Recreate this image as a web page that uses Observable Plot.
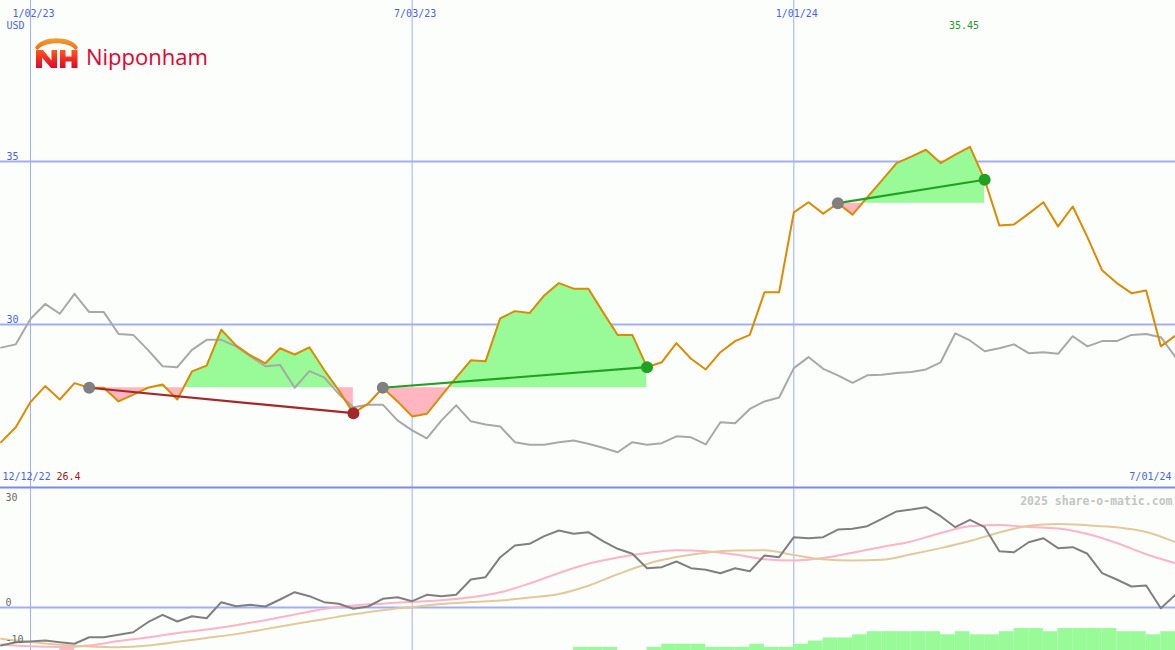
<!DOCTYPE html>
<html><head><meta charset="utf-8">
<script src="https://cdn.jsdelivr.net/npm/d3@7"></script>
<script src="https://cdn.jsdelivr.net/npm/@observablehq/plot@0.6"></script>
<style>
html,body{margin:0;padding:0;background:#fcfefc;}
#wrap{position:relative;width:1175px;height:650px;overflow:hidden;background:#fcfefc;}
#wrap svg{display:block;}
#logo{position:absolute;left:0;top:0;pointer-events:none;}
</style></head><body>
<div id="wrap"><div id="top"></div><div id="bottom"></div>
<svg id="logo" width="230" height="80">
  <defs>
    <linearGradient id="arcG" x1="0" y1="0" x2="0" y2="1"><stop offset="0" stop-color="#f7a030"/><stop offset="1" stop-color="#ee6a1a"/></linearGradient>
    <linearGradient id="nhG" x1="0" y1="0" x2="0" y2="1"><stop offset="0" stop-color="#ff5a18"/><stop offset="0.5" stop-color="#f22a22"/><stop offset="1" stop-color="#dc0a30"/></linearGradient>
  </defs>
  <path d="M35,48 C40,35 73,35 78,48 L75.5,50 C69,41 44,41 37.5,50 Z" fill="url(#arcG)"/>
  <path d="M36,50 H43 L51.5,60.5 V50 H57 V68 H51 L42,57.5 V68 H36 Z" fill="url(#nhG)"/>
  <path d="M60,50 H65.5 V56.5 H71.5 V50 H77.5 V68 H71.5 V61.5 H65.5 V68 H60 Z" fill="url(#nhG)"/>
  <text x="86" y="65" font-family="'Open Sans', 'Liberation Sans', sans-serif" font-size="22" fill="#e5002d">Nipponham</text>
</svg>
</div>
<script>
// ---- data ----
const startDate = "2022-12-19"; // weekly observations (Mondays)
const price = [26.39, 26.85, 27.62, 28.11, 27.70, 28.20, 28.06, 28.06, 27.64, 27.85,
 28.06, 28.16, 27.70, 28.56, 28.74, 29.84, 29.36, 29.05, 28.81, 29.27,
 29.08, 29.30, 28.61, 27.98, 27.28, 27.57, 28.06, 27.64, 27.18, 27.26,
 27.82, 28.37, 28.90, 28.87, 30.19, 30.41, 30.35, 30.89, 31.27, 31.10,
 31.10, 30.38, 29.68, 29.68, 28.69, 28.84, 29.43, 28.95, 28.62, 29.15,
 29.49, 29.68, 30.99, 30.99, 33.44, 33.75, 33.40, 33.72, 33.37, 33.90,
 34.42, 34.95, 35.15, 35.36, 34.95, 35.21, 35.45, 34.44, 33.04, 33.07,
 33.40, 33.75, 33.01, 33.62, 32.68, 31.66, 31.27, 30.96, 31.04, 29.33,
 29.66];
const benchmark = [29.29, 29.39, 30.17, 30.63, 30.33, 30.94, 30.38, 30.38, 29.71, 29.68,
 29.22, 28.72, 28.69, 29.22, 29.53, 29.53, 29.33, 29.02, 28.72, 28.76,
 28.06, 28.57, 28.38, 27.87, 27.46, 27.54, 27.54, 27.06, 26.75, 26.51,
 27.06, 27.52, 27.03, 26.93, 26.87, 26.39, 26.31, 26.31, 26.39, 26.44,
 26.34, 26.22, 26.08, 26.39, 26.31, 26.36, 26.57, 26.54, 26.32, 27.00,
 26.97, 27.41, 27.64, 27.76, 28.66, 29.00, 28.64, 28.44, 28.21, 28.44,
 28.46, 28.51, 28.54, 28.62, 28.84, 29.73, 29.51, 29.18, 29.27, 29.39,
 29.12, 29.15, 29.10, 29.64, 29.33, 29.49, 29.49, 29.68, 29.71, 29.61,
 29.00];
const momentum = [-10.18, -9.30, -9.11, -8.84, -9.30, -9.72, -7.96, -7.96, -7.31, -6.62,
 -3.94, -1.96, -3.75, -2.33, -2.87, 1.42, 0.35, 0.72, 0.27, 2.14,
 4.10, 3.03, 1.42, 0.99, -0.35, 0.27, 2.33, 2.76, 1.69, 3.40,
 3.03, 3.40, 7.50, 8.12, 13.47, 16.61, 17.06, 19.10, 20.63, 19.74,
 20.17, 17.76, 15.72, 14.39, 10.53, 10.80, 12.32, 10.53, 10.10, 9.19,
 10.53, 9.72, 13.93, 13.47, 18.83, 18.56, 18.83, 20.89, 21.08, 21.78,
 23.76, 25.72, 26.25, 26.87, 24.46, 21.51, 23.49, 21.51, 15.08, 14.81,
 17.49, 18.56, 15.89, 16.15, 14.39, 9.19, 7.50, 5.63, 5.89, -0.19,
 3.40];
// smooth averages, read every second week
const avgFast = [-9.91, -10.4, -10.58, -10.18, -8.97, -8.04, -6.83, -5.89, -4.74, -3.40,
 -1.88, -0.40, 0.54, 1.02, 1.55, 1.93, 2.73, 4.07, 6.43, 9.24,
 11.71, 13.39, 14.60, 15.35, 15.08, 14.17, 12.94, 12.59, 13.26, 14.65,
 16.21, 17.68, 19.96, 21.78, 22.10, 21.56, 21.16, 19.69, 17.28, 14.28,
 11.87];
const avgSlow = [-8.38, -9.22, -9.99, -10.45, -10.63, -10.18, -9.19, -8.14, -7.13, -5.79,
 -4.42, -3.13, -1.82, -0.72, 0.11, 0.94, 1.45, 1.88, 2.65, 3.62,
 5.84, 8.89, 11.65, 13.50, 14.68, 15.27, 15.32, 14.06, 12.91, 12.59,
 12.78, 14.25, 15.91, 17.81, 20.09, 21.89, 22.39, 22.02, 21.48, 20.20,
 17.49];
// weekly signal bars (count; negative = pink)
const signalCounts = [0,0,0,0,-1,0,0,0,0,0, 0,0,0,0,0,0,0,0,0,0, 0,0,0,0,0,0,0,0,0,0,
 0,0,0,0,0,0,0,0,0,1, 1,1,0,0,1,2,2,2,1,1, 1,2,1,1,2,3,4,4,5,6,
 6,6,6,6,5,6,5,5,6,7, 7,6,7,7,7,7,6,6,5,6];
const tradeEntryDates = ["2023-01-30", "2023-06-19", "2024-01-22"];
const tradeExitDates  = ["2023-06-05", "2023-10-23", "2024-04-01"];
const gridDates  = ["2023-01-02", "2023-07-03", "2024-01-01"];
const gridLabels = ["1/02/23", "7/03/23", "1/01/24"];
const priceTicks = [30, 35];
const lowerTicks = [30, 0, -10];
const firstLabel = "12/12/22";
const lastLabel = "7/01/24";
const currency = "USD";
const watermark = "2025 share-o-matic.com";

// ---- build tables ----
const t0 = new Date(startDate);
const rows = price.map((p, i) => ({date: d3.utcDay.offset(t0, 7 * i), price: p, bench: benchmark[i], mom: momentum[i]}));
const avgRows = avgFast.map((v, i) => ({date: d3.utcDay.offset(t0, 14 * i), fast: v, slow: avgSlow[i]}));
const barRows = signalCounts.map((c, i) => ({date: rows[i].date, next: rows[i + 1].date, count: c}));
const findRow = d => rows.find(r => +r.date === +new Date(d));
const trades = tradeEntryDates.map((e, i) => {
  const a = findRow(e), b = findRow(tradeExitDates[i]);
  return {entryDate: a.date, entryPrice: a.price, exitDate: b.date, exitPrice: b.price, win: b.price > a.price};
});
const gridRows = gridDates.map((d, i) => ({date: new Date(d), label: gridLabels[i]}));
const maxRow = rows.reduce((m, r) => r.price > m.price ? r : m, rows[0]);
const minRow = rows.reduce((m, r) => r.price < m.price ? r : m, rows[0]);

// ---- styles ----
const BLUE = "#4a5ef0", GRID = "#a3adf2", DIVIDER = "#7a8af0";
const GREENFILL = "#98fb98", PINKFILL = "#ffb6c1";
const WIN = "#22a022", LOSS = "#a52828";
const FONT = "'DejaVu Sans Mono', monospace";
const xScale = {type: "utc", domain: [new Date(Date.UTC(2022, 11, 18, 17)), new Date(Date.UTC(2024, 6, 1))], axis: null};
const priceMin = 25;

function tradeFill(t) {
  const seg = rows.filter(r => r.date >= t.entryDate && r.date <= t.exitDate);
  const base = t.entryPrice;
  if (Plot.differenceY) {
    return [Plot.differenceY(seg, {x: "date", y1: () => base, y2: "price", positiveFill: GREENFILL, negativeFill: PINKFILL, fillOpacity: 1, stroke: "none"})];
  }
  return [
    Plot.areaY(seg, {x: "date", y1: () => base, y2: d => Math.max(d.price, base), fill: GREENFILL}),
    Plot.areaY(seg, {x: "date", y1: () => base, y2: d => Math.min(d.price, base), fill: PINKFILL})
  ];
}

const topPlot = Plot.plot({
  width: 1175, height: 488, margin: 0,
  style: {background: "transparent", fontFamily: FONT, overflow: "visible"},
  x: xScale,
  y: {domain: [24.969, 39.938], axis: null},
  marks: [
    Plot.ruleX(gridRows, {x: "date", stroke: GRID, strokeWidth: 1}),
    Plot.ruleY(priceTicks, {stroke: GRID, strokeWidth: 2}),
    ...trades.flatMap(tradeFill),
    Plot.line(rows, {x: "date", y: "bench", stroke: "#a8a8a8", strokeWidth: 2}),
    Plot.line(rows, {x: "date", y: "price", stroke: "#dc8a00", strokeWidth: 2}),
    Plot.link(trades.filter(t => !t.win), {x1: "entryDate", y1: "entryPrice", x2: "exitDate", y2: "exitPrice", stroke: LOSS, strokeWidth: 2.2}),
    Plot.link(trades.filter(t => t.win), {x1: "entryDate", y1: "entryPrice", x2: "exitDate", y2: "exitPrice", stroke: WIN, strokeWidth: 2.2}),
    Plot.dot(trades, {x: "entryDate", y: "entryPrice", r: 6, fill: "#808080"}),
    Plot.dot(trades.filter(t => !t.win), {x: "exitDate", y: "exitPrice", r: 6, fill: LOSS}),
    Plot.dot(trades.filter(t => t.win), {x: "exitDate", y: "exitPrice", r: 6, fill: WIN}),
    Plot.ruleY([priceMin], {stroke: DIVIDER, strokeWidth: 2}),
    Plot.text(gridRows, {x: "date", text: "label", frameAnchor: "top", dy: 9, dx: 3, fill: BLUE, fontSize: 10}),
    Plot.text([currency], {text: d => d, frameAnchor: "top-left", textAnchor: "start", dx: 6, dy: 21, fill: BLUE, fontSize: 10}),
    Plot.text(priceTicks, {y: d => d, text: d => String(d), frameAnchor: "left", textAnchor: "start", dx: 6, dy: -5, fill: BLUE, fontSize: 10}),
    Plot.text([maxRow], {x: "date", text: d => d.price.toFixed(2), frameAnchor: "top", dy: 21, dx: -6, fill: "#229922", fontSize: 10}),
    Plot.text([firstLabel], {text: d => d, frameAnchor: "bottom-left", textAnchor: "start", dx: 2, dy: -9, fill: BLUE, fontSize: 10}),
    Plot.text([minRow], {text: d => d.price.toFixed(1), frameAnchor: "bottom-left", textAnchor: "start", dx: 56, dy: -9, fill: "#a01818", fontSize: 10}),
    Plot.text([lastLabel], {text: d => d, frameAnchor: "bottom-right", textAnchor: "end", dx: -4, dy: -9, fill: BLUE, fontSize: 10})
  ]
});
document.getElementById("top").appendChild(topPlot);

const lowMin = -11.518, signalUnit = 0.84;
const bottomPlot = Plot.plot({
  width: 1175, height: 162, margin: 0,
  style: {background: "transparent", fontFamily: FONT, overflow: "visible"},
  x: xScale,
  y: {domain: [lowMin, 31.875], axis: null},
  marks: [
    Plot.ruleX(gridRows, {x: "date", stroke: GRID, strokeWidth: 1}),
    Plot.ruleY([0], {stroke: GRID, strokeWidth: 2}),
    Plot.rectY(barRows.filter(d => d.count > 0), {x1: "date", x2: "next", y1: lowMin, y2: d => lowMin + d.count * signalUnit, fill: GREENFILL}),
    Plot.rectY(barRows.filter(d => d.count < 0), {x1: "date", x2: "next", y1: lowMin, y2: d => lowMin - d.count * signalUnit, fill: PINKFILL}),
    Plot.line(avgRows, {x: "date", y: "fast", stroke: "#ffb3c6", strokeWidth: 2, curve: "monotone-x"}),
    Plot.line(avgRows, {x: "date", y: "slow", stroke: "#e3c99a", strokeWidth: 2, curve: "monotone-x"}),
    Plot.line(rows, {x: "date", y: "mom", stroke: "#7f7f7f", strokeWidth: 2}),
    Plot.text(lowerTicks.filter(d => d > 0), {y: d => d, text: d => String(d), frameAnchor: "left", textAnchor: "start", dx: 5, dy: 2, fill: "#6a6a6a", fontSize: 10}),
    Plot.text(lowerTicks.filter(d => d <= 0), {y: d => d, text: d => String(d), frameAnchor: "left", textAnchor: "start", dx: 5, dy: -5, fill: "#6a6a6a", fontSize: 10}),
    Plot.text([watermark], {text: d => d, frameAnchor: "top-right", textAnchor: "end", dx: -3, dy: 8, fill: "#c4c4c4", fontWeight: "bold", fontSize: 11.5})
  ]
});
document.getElementById("bottom").appendChild(bottomPlot);
</script>
</body></html>
